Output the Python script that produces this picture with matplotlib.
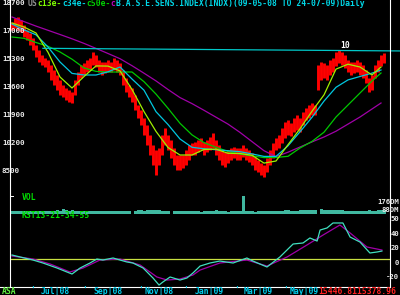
import numpy as np
import matplotlib
matplotlib.use('Agg')
import matplotlib.pyplot as plt
from matplotlib.transforms import blended_transform_factory as blend
from matplotlib.lines import Line2D

plt.rcParams.update({
    'font.family': 'DejaVu Sans Mono',
    'font.weight': 'bold',
    'font.size': 5.8,
    'figure.facecolor': 'black',
    'axes.facecolor': 'black'})

# B.A.S.E. SENS.INDEX 09-05-08 .. 24-07-09, one bar every ~2.4 trading days
hi = [17547, 17790, 17850, 17668, 17365, 17061, 16879, 16575, 16150, 15847,
      15544, 15362, 15240, 14937, 14633, 14330, 14026, 13722, 13540, 13419,
      13298, 14026, 14512, 14937, 15058, 15240, 15362, 15726, 15544, 15240,
      15119, 15119, 15240, 15119, 15362, 15240, 15058, 14633, 14147, 13722,
      13540, 13115, 12509, 12205, 11719, 11294, 10688, 10080, 9777, 9898,
      10688, 11112, 10688, 10384, 9898, 9474, 9474, 9474, 9777, 10080,
      10202, 10263, 10384, 10505, 10263, 10384, 10566, 10809, 10384, 10080,
      9777, 9656, 9777, 9898, 9959, 9898, 9898, 10080, 9898, 9777,
      9595, 9352, 9170, 8988, 8866, 9291, 9777, 10202, 10505, 10688,
      11112, 11477, 11598, 11416, 11719, 11901, 11719, 12084, 12326, 12509,
      12630, 12509, 14937, 15119, 15058, 14937, 15240, 15362, 15726, 15847,
      15726, 15544, 15240, 15119, 15119, 15240, 15119, 14937, 14633, 14147,
      14330, 14937, 15240, 15544, 15665]
lo = [17061, 17182, 17061, 16940, 16636, 16454, 16150, 15847, 15423, 15119,
      14937, 14815, 14512, 14026, 13722, 13419, 13115, 12994, 12812, 12691,
      12630, 13115, 13722, 14147, 14330, 14512, 14633, 14937, 14815, 14512,
      14330, 14451, 14512, 14512, 14633, 14512, 14330, 13722, 13298, 12994,
      12691, 12205, 11719, 11294, 10688, 10080, 9474, 8866, 8260, 8866,
      9474, 10080, 9777, 9291, 8866, 8563, 8563, 8684, 8866, 9170,
      9474, 9474, 9656, 9777, 9474, 9656, 9777, 9898, 9474, 9170,
      8866, 8745, 8988, 9170, 9291, 9170, 9170, 9352, 9170, 9049,
      8866, 8563, 8442, 8260, 8138, 8442, 8866, 9291, 9777, 9898,
      10202, 10505, 10688, 10627, 10870, 10991, 10870, 11294, 11598, 11719,
      11901, 11901, 13419, 14026, 14147, 14026, 14330, 14512, 14876, 15058,
      14937, 14754, 14512, 14330, 14451, 14512, 14330, 14147, 13844, 13298,
      13419, 14147, 14512, 14876, 15058]
vol = [33, 35, 32, 34, 36, 33, 35, 34, 37, 35,
       36, 34, 38, 37, 35, 39, 38, 55, 40, 37,
       39, 36, 35, 34, 33, 35, 34, 32, 33, 31,
       32, 30, 31, 33, 32, 31, 34, 35, 36, 38,
       0, 37, 39, 41, 38, 40, 42, 39, 43, 41,
       38, 36, 35, 0, 34, 33, 32, 30, 31, 29,
       30, 28, 29, 27, 30, 31, 29, 32, 48, 30,
       29, 28, 27, 29, 30, 28, 31, 198, 30, 29,
       28, 27, 29, 30, 31, 33, 35, 34, 36, 37,
       38, 40, 39, 37, 38, 36, 39, 41, 40, 42,
       44, 43, 0, 52, 46, 44, 42, 41, 43, 40,
       39, 38, 37, 38, 36, 35, 37, 36, 38, 39,
       37, 38, 40, 39, 41]

# moving averages, read every 4 bars
ma_x = [0, 4, 8, 12, 16, 20, 24, 28, 32, 36, 40, 44, 48, 52, 56, 60,
        64, 68, 72, 76, 80, 84, 88, 92, 96, 100, 104, 108, 112, 116, 120, 123]
c13e = [17486, 17243, 16879, 15707, 14208, 13540, 14238, 14882, 14870, 14578,
        13455, 12108, 10906, 9929, 9474, 9474, 9808, 9832, 9577, 9565,
        9455, 8982, 9109, 10099, 11064, 12132, 13122, 14688, 14985, 14815,
        14330, 14815]
c34e = [17425, 17073, 16770, 16029, 15119, 14427, 14330, 14330, 14524, 14815,
        14087, 13407, 12102, 11325, 10445, 9941, 9850, 9795, 9734, 9674,
        9540, 9389, 9389, 10032, 10882, 11762, 12745, 13583, 14032, 14239,
        14445, 14633]
c50e = [16636, 16557, 16302, 16072, 15726, 15289, 14760, 14548, 14512, 14512,
        14512, 13923, 13170, 12308, 11398, 10694, 10226, 9941, 9692, 9534,
        9425, 9316, 9322, 9395, 9898, 10299, 10857, 11780, 12508, 13237,
        13965, 14451]
cma = [17850, 17571, 17298, 17043, 16788, 16527, 16248, 15944, 15635, 15319,
       14894, 14439, 13971, 13449, 12958, 12593, 12187, 11768, 11349, 10845,
       10287, 9734, 9376, 9643, 9959, 10269, 10566, 10918, 11349, 11780,
       12266, 12630]
trend_x = [10.3, 129.3]
trend = [15950, 15790]

# KST13-21-34-55 and its signal
kst_x = [0, 2.7, 7, 10.3, 15, 18.3, 20, 22.7, 26, 28.3, 30.3, 33.7, 36, 38.3,
         40.3, 43.7, 47, 49, 50.3, 52.7, 56, 58.3, 60.3, 62.7, 66, 69.3, 73.7,
         78.3, 80.3, 85, 89.3, 93.7, 97, 99.3, 101.7, 102.7, 105, 107, 110.3,
         112.7, 116, 119.3, 121.7, 123.3]
kst = [5.5, 2.8, -1.4, -5.5, -12.4, -17.9, -20.7, -12.4, -5.5, 0, -1.4, 1.4,
       -1.4, -4.1, -5.5, -12.4, -26.2, -35.9, -31.7, -24.8, -29, -26.2, -19.3,
       -9.7, -5.5, -2.8, -5.5, 1.4, -2.8, -11, 2.8, 20.7, 22.1, 29, 24.8, 40,
       42.8, 49.7, 49.7, 30.3, 23.4, 8.3, 9.7, 11]
sig_x = [0, 7, 12.7, 19.3, 23.7, 29.3, 36, 42.7, 48.3, 51.7, 56, 60.3, 62.7,
         69.3, 78.3, 85, 91.7, 98.3, 103.7, 109.3, 112.7, 118.3, 123.3]
sig = [4.1, 0, -6.9, -17.9, -12.4, -1.4, 0, -8.3, -24.8, -29, -27.6, -22.1,
       -15.2, -5.5, -1.4, -9.7, 2.8, 19.3, 33.1, 46.9, 35.9, 16.6, 12.4]

price_ticks = [18700, 17000, 15300, 13600, 11900, 10200, 8500]
kst_tick_pos = [60, 40, 20, 0, -20]
kst_tick_lab = ['50', '40', '20', '0', '-20']
month_pos = [14.3, 31.9, 49.2, 65.6, 82.2, 97.5]
month_lab = ['Jul|08', 'Sep|08', 'Nov|08', 'Jan|09', 'Mar|09', 'May|09']
tick_pos = [6.7, 24.3, 42.7, 58, 74.7, 91.3]

W, H = 400., 295.
fig = plt.figure(figsize=(4, 2.95), dpi=100)

def box(top, bottom):
    return [10/W, 1-bottom/H, 380/W, (bottom-top)/H]

xlim = (-0.67, 126)
ax = fig.add_axes(box(0, 185))
axv = fig.add_axes(box(190, 214))
axk = fig.add_axes(box(215, 287))
for a in (ax, axv, axk):
    a.set_xlim(*xlim)
    a.set_axis_off()

x = np.arange(len(hi))
ax.set_ylim(7653, 18882)
ax.vlines(x, lo, hi, color='#ff0000', lw=2.1)
ax.plot(ma_x, cma, color='#a000a8', lw=0.9)
ax.plot(ma_x, c50e, color='#00c800', lw=0.9)
ax.plot(ma_x, c34e, color='#00c8e0', lw=0.9)
ax.plot(ma_x, c13e, color='#a0f000', lw=0.9)
ax.plot(trend_x, trend, color='#00c8c8', lw=0.9, clip_on=False)
ax.text(111, 16090, '10', color='white', ha='center', va='center')

tr = blend(fig.transFigure, ax.transData)
for p in price_ticks:
    ax.text(2/W, p, str(p), color='#e8e8e8', transform=tr, ha='left', va='center', fontsize=5.4)

axv.set_ylim(0, 264)
axv.bar(x, vol, width=1.0, color='#40b8a0', linewidth=0)
fig.text(22/W, 1-198/H, 'VOL', color='#00e000', va='center')
fig.text(399/W, 1-202.5/H, '176DM', color='#e8e8e8', ha='right', va='center', fontsize=5.2)
fig.text(399/W, 1-210.5/H, '88DM', color='#e8e8e8', ha='right', va='center', fontsize=5.2)
fig.add_artist(Line2D([10/W, 13/W], [1-196/H, 1-196/H], color='white', lw=0.7))

axk.set_ylim(-38.6, 60.7)
axk.axhline(0, color='#c8e040', lw=0.9)
axk.plot(sig_x, sig, color='#a000a8', lw=0.9)
axk.plot(kst_x, kst, color='#40e0c0', lw=0.9)
fig.text(22/W, 1-216/H, 'KST13-21-34-55', color='#00e000', va='center')
trk = blend(fig.transFigure, axk.transData)
for k, l in zip(kst_tick_pos, kst_tick_lab):
    axk.text(399/W, k - 5, l, color='#e8e8e8', transform=trk, ha='right', va='center', fontsize=5.2)

# frame
white = dict(color='white', lw=0.8, transform=fig.transFigure)
fig.add_artist(Line2D([9.5/W, 9.5/W], [1, 1-287/H], **white))
fig.add_artist(Line2D([390/W, 390/W], [1, 1-287/H], **white))
fig.add_artist(Line2D([0, 390/W], [1-287/H, 1-287/H], **white))

# title
parts = [('US', '#909090'), ('c13e-', '#80ff00'), ('c34e-', '#00d8e8'),
         ('c50e-', '#00d000'), ('c', '#c000c0'),
         ('B.A.S.E.SENS.INDEX(INDX)(09-05-08 TO 24-07-09)Daily', '#00d8e8')]
n = 0
for s, c in parts:
    fig.text((28 + n*4.87)/W, 1-4/H, s, color=c, va='center', ha='left')
    n += len(s)

# bottom date axis
trb = blend(axk.transData, fig.transFigure)
fig.text(2/W, 1-291/H, 'ASA', color='#60f040', va='center')
for p, l in zip(month_pos, month_lab):
    fig.text(p, 1-291/H, l, color='#00d0f0', ha='center', va='center', transform=trb)
for p in tick_pos:
    fig.text(p, 1-290/H, "'", color='#00d0f0', ha='center', va='center', transform=trb)
fig.text(318/W, 1-291/H, '15446.8115378.96', color='#ff2020', va='center', ha='left')

fig.savefig('out.png', dpi=100, facecolor='black')
